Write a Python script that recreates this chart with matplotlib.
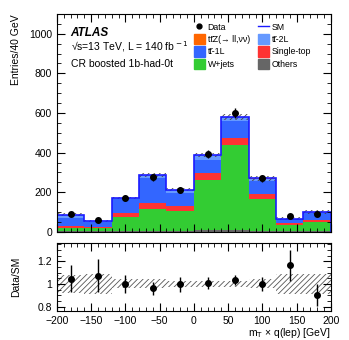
import matplotlib
matplotlib.use("Agg")
import matplotlib.pyplot as plt
import numpy as np
from matplotlib.lines import Line2D
from matplotlib.patches import Patch

plt.rcParams["font.family"] = ["Liberation Sans", "DejaVu Sans"]
plt.rcParams["hatch.linewidth"] = 0.6

edges = [-200, -160, -120, -80, -40, 0, 40, 80, 120, 160, 200]
centers = [-180, -140, -100, -60, -20, 20, 60, 100, 140, 180]

others = [5, 4, 4, 5, 5, 12, 12, 6, 3, 4]
wjets = [15, 18, 72, 108, 100, 250, 424, 160, 34, 46]
single_top = [9, 5, 18, 32, 28, 35, 40, 25, 6, 10]
tt_1l = [42, 24, 70, 128, 62, 64, 86, 68, 21, 34]
tt_2l = [14, 2, 6, 12, 17, 25, 16, 10, 2, 6]
ttz = [1, 1, 1, 1, 1, 2, 2, 1, 1, 1]

data = [90, 58, 171, 275, 212, 392, 600, 270, 78, 91]
data_err = [10, 8, 13, 16, 14, 20, 24, 16, 9, 10]
rel_unc = [0.08, 0.085, 0.04, 0.04, 0.03, 0.03, 0.03, 0.04, 0.085, 0.085]

TT = "tt\u0304"
stack = [
    (others, "#666666", "Others"),
    (wjets, "#33cc33", "W+jets"),
    (single_top, "#ff3333", "Single-top"),
    (tt_1l, "#3366ff", TT + "-1L"),
    (tt_2l, "#6699ff", TT + "-2L"),
    (ttz, "#ff6600", TT + "Z(\u2192 ll,\u03bd\u03bd)"),
]

fig = plt.figure(figsize=(3.49, 3.40), dpi=100)
ax = fig.add_axes([0.163, 0.318, 0.785, 0.641])
rax = fig.add_axes([0.163, 0.085, 0.785, 0.2])

base = np.zeros(len(centers))
for vals, color, name in stack:
    vals = np.array(vals, dtype=float)
    ax.stairs(base + vals, edges, baseline=base, fill=True, color=color, lw=0)
    base = base + vals
sm = base
unc = np.array(rel_unc)

ax.stairs(sm * (1 + unc), edges, baseline=sm * (1 - unc), fill=False, hatch="//////",
          color="#444444", lw=0)
ax.stairs(sm, edges, color="#1a1aff", lw=1.2)
ax.errorbar(centers, data, yerr=data_err, fmt="o", color="black", ms=4, lw=1,
            capsize=0)

ax.set_xlim(-200, 200)
ax.set_ylim(0, 1100)
ax.set_xticklabels([])
ax.set_ylabel("Entries/40 GeV", fontsize=7.5, loc="top")

ax.text(0.05, 0.9, "ATLAS", transform=ax.transAxes, fontsize=8.5,
        fontweight="bold", fontstyle="italic")
ax.text(0.05, 0.83, "\u221as=13 TeV, L = 140 fb$^{\\rm -1}$",
        transform=ax.transAxes, fontsize=7.5)
ax.text(0.05, 0.755, "CR boosted 1b-had-0t", transform=ax.transAxes, fontsize=7.5)

handles = [
    Line2D([], [], marker="o", color="black", ls="none", ms=3.5),
    Patch(color=stack[5][1]),
    Patch(color=stack[3][1]),
    Patch(color=stack[1][1]),
    Line2D([], [], color="#1a1aff", lw=1),
    Patch(color=stack[4][1]),
    Patch(color=stack[2][1]),
    Patch(color=stack[0][1]),
]
labels = ["Data", stack[5][2], stack[3][2], stack[1][2],
          "SM", stack[4][2], stack[2][2], stack[0][2]]
ax.legend(handles, labels, ncol=2, frameon=False, fontsize=6.3,
          loc="upper left", bbox_to_anchor=(0.47, 1.0), handlelength=1.3,
          handleheight=1.4, handletextpad=0.3, columnspacing=0.9,
          labelspacing=0.25)

# ratio panel
ratio = np.array(data) / sm
ratio_err = np.array(data_err) / sm
rax.stairs(1 + unc, edges, baseline=1 - unc, fill=False, hatch="//////",
           color="#555555", lw=0)
rax.errorbar(centers, ratio, yerr=ratio_err, fmt="o", color="black", ms=4,
             lw=1, capsize=0)
rax.set_xlim(-200, 200)
rax.set_ylim(0.76, 1.36)
rax.set_yticks([0.8, 1.0, 1.2])
rax.set_yticklabels(["0.8", "1", "1.2"])
rax.set_ylabel("Data/SM", fontsize=7.5)
rax.set_xlabel("m$_{\\rm T}$ \u00d7 q(lep) [GeV]", fontsize=7.5, loc="right",
               labelpad=0)

for a in (ax, rax):
    a.minorticks_on()
    a.tick_params(which="both", direction="in", top=True, right=True,
                  labelsize=7.5)
    a.tick_params(which="major", length=6)
    a.tick_params(which="minor", length=3)
ax.yaxis.set_label_coords(-0.13, 1.0)
rax.yaxis.set_label_coords(-0.13, 0.5)

fig.savefig("out.png", dpi=100)
